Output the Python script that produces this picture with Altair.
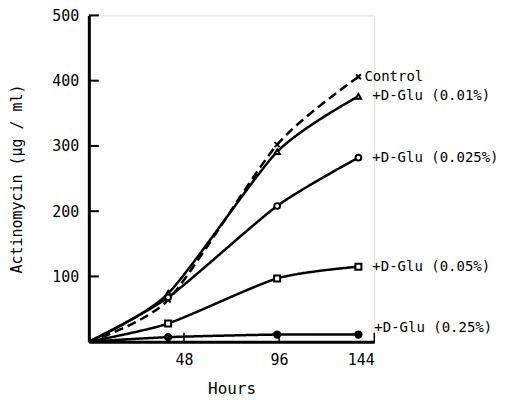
import altair as alt
import pandas as pd

# ---- data ----
series = ["Control", "+D-Glu (0.01%)", "+D-Glu (0.025%)", "+D-Glu (0.05%)", "+D-Glu (0.25%)"]
hours = [0, 40, 95, 136]
control = [0, 64, 302, 406]
glu_001 = [0, 74, 291, 376]
glu_0025 = [0, 68, 208, 282]
glu_005 = [0, 28, 97, 115]
glu_025 = [0, 7, 11, 11]
y_ticks = [100, 200, 300, 400, 500]
x_ticks = [48, 96, 144]

values = [control, glu_001, glu_0025, glu_005, glu_025]
rows = []
for s, vals in zip(series, values):
    for h, v in zip(hours, vals):
        rows.append({"series": s, "hour": h, "value": v})
df = pd.DataFrame(rows)
pts = df[df["hour"] > 0]
last = df[df["hour"] == hours[-1]]

W, H = 286, 327
FONT = "DejaVu Sans Mono"

xs = alt.Scale(domain=[0, 144], nice=False)
ys = alt.Scale(domain=[0, 500], nice=False)

X = alt.X("hour:Q", scale=xs, axis=alt.Axis(
    values=x_ticks, ticks=False, grid=False, title="Hours",
    domainWidth=3, domainColor="black", labelFontSize=15, labelColor="black",
    labelFont=FONT, labelPadding=11, titleFont=FONT, titleFontSize=16,
    titleFontWeight="normal", titleColor="black", titlePadding=13))
Y = alt.Y("value:Q", scale=ys, axis=alt.Axis(
    values=y_ticks, ticks=False, grid=False, title="Actinomycin (µg / ml)",
    domainWidth=3, domainColor="black", labelFontSize=15, labelColor="black",
    labelFont=FONT, labelPadding=10, titleFont=FONT, titleFontSize=15,
    titleFontWeight="normal", titleColor="black", titlePadding=27))

dash = alt.StrokeDash("series:N", scale=alt.Scale(
    domain=series, range=[[9, 5], [1, 0], [1, 0], [1, 0], [1, 0]]), legend=None)
width_enc = alt.StrokeWidth("series:N", scale=alt.Scale(
    domain=series, range=[2.5, 2.5, 2.2, 2.2, 4]), legend=None)

lines = alt.Chart(df).mark_line(interpolate="cardinal", tension=0.3, color="black").encode(
    x=X, y=Y, detail="series:N", strokeDash=dash, strokeWidth=width_enc)

xpath = "M-1,-1L1,1M1,-1L-1,1"
points = alt.Chart(pts).mark_point(stroke="black", strokeWidth=2, opacity=1).encode(
    x=alt.X("hour:Q", scale=xs),
    y=alt.Y("value:Q", scale=ys),
    shape=alt.Shape("series:N", scale=alt.Scale(
        domain=series, range=[xpath, "triangle-up", "circle", "square", "circle"]), legend=None),
    fill=alt.Fill("series:N", scale=alt.Scale(
        domain=series, range=["black", "white", "white", "white", "black"]), legend=None),
    size=alt.Size("series:N", scale=alt.Scale(
        domain=series, range=[25, 40, 50, 35, 80]), legend=None),
)

label_offsets = {series[0]: (6, 0), series[1]: (14, 0), series[2]: (14, 0),
                 series[3]: (14, 0), series[4]: (16, -7)}
label_layers = []
for s in series:
    dx, dy = label_offsets[s]
    label_layers.append(
        alt.Chart(last).transform_filter(alt.datum.series == s).mark_text(
            align="left", baseline="middle", dx=dx, dy=dy,
            fontSize=14, font=FONT, color="black").encode(
            x=alt.X("hour:Q", scale=xs),
            y=alt.Y("value:Q", scale=ys),
            text="series:N",
        ))

ytick_df = pd.DataFrame({"value": y_ticks})
yticks = alt.Chart(ytick_df).mark_rule(color="black", strokeWidth=2).encode(
    y=alt.Y("value:Q", scale=ys), x=alt.value(0), x2=alt.value(10))
xtick_df = pd.DataFrame({"hour": x_ticks})
xticks = alt.Chart(xtick_df).mark_rule(color="black", strokeWidth=1.5).encode(
    x=alt.X("hour:Q", scale=xs), y=alt.value(H), y2=alt.value(H - 9))

chart = alt.layer(lines, yticks, xticks, points, *label_layers).properties(
    width=W, height=H,
    autosize=alt.AutoSizeParams(type="none"),
    padding={"left": 81, "top": 7, "right": 128, "bottom": 62},
).configure_view(stroke=None).configure(background="white")

chart.save("out.html", embed_options={"renderer": "svg", "actions": False})
